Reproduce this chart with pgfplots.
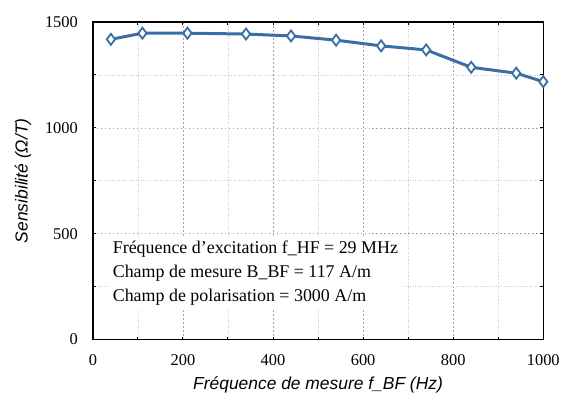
\documentclass[border=0pt]{standalone}
\usepackage{fontspec}
\setmainfont{Liberation Serif}
\newfontfamily\labelfont{Liberation Sans}
\usepackage{pgfplots}
\pgfplotsset{compat=1.18}
\definecolor{serieblue}{HTML}{3B6EA5}
\begin{document}
\begin{tikzpicture}
\begin{axis}[
  scale only axis,
  width=451bp, height=318bp,
  xmin=0, xmax=1000, ymin=0, ymax=1500,
  xtick={0,200,...,1000}, minor x tick num=1,
  ytick={0,500,1000,1500}, minor y tick num=1,
  tick align=inside,
  major tick length=3bp, minor tick length=3bp,
  grid=both,
  major grid style={gray!70, dash pattern=on 1.5bp off 2.5bp, line width=0.6bp},
  minor grid style={gray!40, dotted, line width=0.6bp},
  axis line style={line width=1.4bp},
  tick style={black, line width=1bp},
  /pgf/number format/assume math mode=true,
  /pgf/number format/1000 sep={},
  tick label style={font=\fontsize{16.5}{19}\selectfont},
  yticklabel style={xshift=-11.5bp},
  xticklabel style={yshift=-12bp},
  xlabel={\labelfont\itshape Fréquence de mesure f\_BF (Hz)},
  ylabel={\labelfont\itshape Sensibilité (Ω/T)},
  label style={font=\fontsize{17.5}{20}\selectfont},
  xlabel style={yshift=-4bp},
  ylabel style={yshift=7bp},
  clip=false,
]
\addplot[serieblue, line width=3bp, mark=diamond*, mark size=5.5bp,
  mark options={fill=white, line width=1.8bp}]
coordinates {
  (40,1418)(110,1447)(210,1447)(340,1443)(440,1434)(540,1414)
  (640,1387)(740,1368)(840,1286)(940,1258)(1000,1218)
};
\node[anchor=north west, fill=white, inner xsep=4bp, inner ysep=4bp,
  align=left, font=\fontsize{18}{24}\selectfont]
  at (axis cs:35,486)
  {Fréquence d’excitation f\_HF = 29 MHz\\
   Champ de mesure B\_BF = 117 A/m\\
   Champ de polarisation = 3000 A/m};
\end{axis}
\path (-93bp,-58bp) rectangle (470bp,340bp);
\end{tikzpicture}
\end{document}
